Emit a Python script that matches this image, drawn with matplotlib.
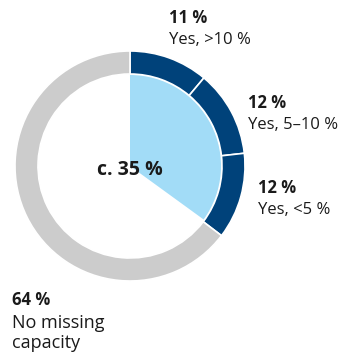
import matplotlib
matplotlib.use('Agg')
import matplotlib.pyplot as plt

# ring segments, clockwise from 12 o'clock
ring_values = [11, 12, 12, 64]
ring_colors = ['#00427a', '#00427a', '#00427a', '#cccccc']
yes_share = 35
pct_labels = ['11 %', '12 %', '12 %', '64 %']
cat_labels = ['Yes, >10 %', 'Yes, 5–10 %', 'Yes, <5 %', 'No missing\ncapacity']
center_label = 'c. 35 %'

W, H = 344, 354
fig = plt.figure(figsize=(W / 100, H / 100), dpi=100)
ax = fig.add_axes([0, 0, 1, 1])

cx, cy = 130, H - 166
r_out = 115

ax.pie(ring_values, colors=ring_colors, startangle=90, counterclock=False,
       radius=r_out, center=(cx, cy), frame=True,
       wedgeprops=dict(width=23, edgecolor='white', linewidth=1.2))
ax.pie([yes_share, 100 - yes_share], colors=['#a2dcf7', 'none'], startangle=90,
       counterclock=False, radius=91, center=(cx, cy), frame=True,
       wedgeprops=dict(edgecolor='none', linewidth=0))
ax.set_xlim(0, W)
ax.set_ylim(0, H)
ax.set_aspect('equal')
ax.axis('off')

font = 'Open Sans'
ax.text(cx, H - 170, center_label, ha='center', va='center', fontsize=14,
        fontweight='bold', color='#1a1a1a', family=font)

label_pos = [(169, 18), (248, 103), (258, 188), (12, 300)]
label_size = [12, 12, 12, 13]
for (x, y), p, c, s in zip(label_pos, pct_labels, cat_labels, label_size):
    ax.text(x, H - y, p, ha='left', va='center', fontsize=12, fontweight='bold',
            color='#1a1a1a', family=font)
    off = 22 + 11 * c.count('\n')
    ax.text(x, H - y - off, c, ha='left', va='center', fontsize=s,
            color='#1a1a1a', family=font, linespacing=1.15)

fig.savefig('out.png', dpi=100)
